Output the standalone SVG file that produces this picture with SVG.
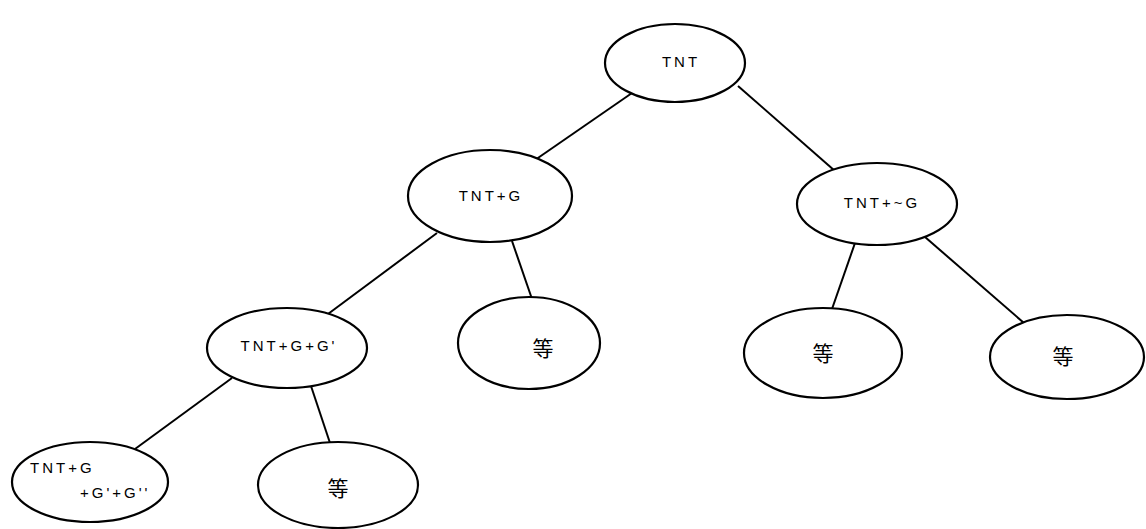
<svg xmlns="http://www.w3.org/2000/svg" width="1146" height="529" viewBox="0 0 1146 529">
<style>
.n{fill:#fff;stroke:#000;stroke-width:2.2}
.t{font-family:"Liberation Sans","Noto Sans CJK SC",sans-serif;font-size:15px;fill:#000;text-anchor:middle;dominant-baseline:central;letter-spacing:3px}
.s{text-anchor:start}
.c{font-family:"Noto Sans CJK SC",sans-serif;font-size:21px;fill:#000;text-anchor:middle;dominant-baseline:central}
.e{stroke:#000;stroke-width:2;fill:none}
</style>
<rect width="1146" height="529" fill="#fff"/>
<g id="connectors">
<line class="e" x1="632" y1="93" x2="535" y2="160"/>
<line class="e" x1="738" y1="86" x2="835" y2="171"/>
<line class="e" x1="437" y1="233" x2="328" y2="314"/>
<line class="e" x1="512" y1="241" x2="532" y2="299"/>
<line class="e" x1="855" y1="243" x2="832" y2="309"/>
<line class="e" x1="925" y1="237" x2="1024" y2="323"/>
<line class="e" x1="232" y1="378" x2="135" y2="449"/>
<line class="e" x1="311" y1="386" x2="330" y2="443"/>
</g>
<g id="n1"><ellipse class="n" cx="675" cy="63" rx="70" ry="39"/><text class="t" x="681" y="61">TNT</text></g>
<g id="n2"><ellipse class="n" cx="490" cy="196" rx="82" ry="46"/><text class="t" x="491" y="195">TNT+G</text></g>
<g id="n3"><ellipse class="n" cx="877" cy="204" rx="80" ry="41"/><text class="t" x="882" y="202">TNT+~G</text></g>
<g id="n4"><ellipse class="n" cx="287" cy="348" rx="80" ry="40"/><text class="t" x="289" y="345">TNT+G+G'</text></g>
<g id="n5"><ellipse class="n" cx="529" cy="343" rx="71" ry="46"/><text class="c" x="543" y="347">等</text></g>
<g id="n6"><ellipse class="n" cx="823" cy="353" rx="79" ry="45"/><text class="c" x="823" y="352">等</text></g>
<g id="n7"><ellipse class="n" cx="1067" cy="357" rx="77" ry="42"/><text class="c" x="1063" y="355">等</text></g>
<g id="n8"><ellipse class="n" cx="90" cy="482" rx="78" ry="40"/><text class="t s" x="30" y="467">TNT+G</text><text class="t s" x="80" y="492">+G'+G''</text></g>
<g id="n9"><ellipse class="n" cx="338" cy="485" rx="80" ry="43"/><text class="c" x="338" y="487">等</text></g>
</svg>
